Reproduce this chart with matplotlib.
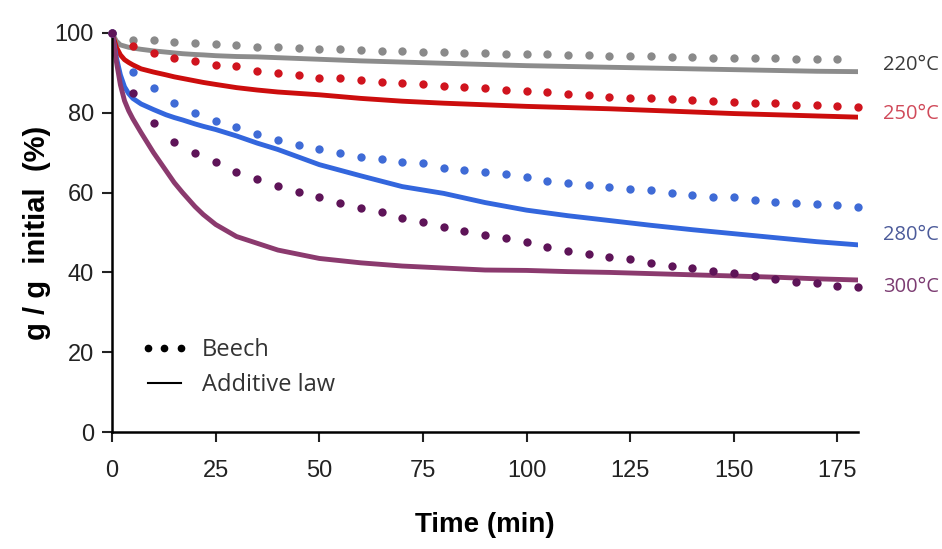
import numpy as np
import matplotlib
matplotlib.use('Agg')
import matplotlib.pyplot as plt
from matplotlib.lines import Line2D

# measured points (Beech), every 5 min
t_dots = np.arange(0, 181, 5)
beech_220 = [100, 98.3, 98.2, 97.8, 97.5, 97.2, 96.9, 96.6, 96.4, 96.2, 96.0, 95.9, 95.7,
             95.6, 95.5, 95.3, 95.2, 95.0, 94.9, 94.8, 94.7, 94.6, 94.5, 94.4, 94.3, 94.2,
             94.1, 94.0, 93.9, 93.8, 93.7, 93.7, 93.6, 93.5, 93.5, 93.4]  # stops at 175
beech_250 = [100, 96.8, 94.9, 93.6, 93.0, 92.0, 91.6, 90.5, 89.9, 89.5, 88.8, 88.6, 88.2,
             87.8, 87.4, 87.1, 86.8, 86.5, 86.1, 85.7, 85.5, 85.1, 84.8, 84.4, 84.0, 83.6,
             83.6, 83.4, 83.2, 83.0, 82.8, 82.5, 82.5, 82.0, 82.0, 81.7, 81.4]
beech_280 = [100, 90.3, 86.3, 82.4, 79.9, 77.9, 76.5, 74.8, 73.2, 71.9, 70.9, 70.0, 69.0,
             68.4, 67.7, 67.3, 66.2, 65.7, 65.1, 64.6, 64.0, 62.9, 62.5, 62.0, 61.5, 60.8,
             60.7, 59.8, 59.4, 59.0, 58.8, 58.1, 57.7, 57.3, 57.1, 56.9, 56.5]
beech_300 = [100, 84.9, 77.4, 72.8, 69.8, 67.7, 65.2, 63.5, 61.7, 60.2, 59.0, 57.3, 56.1,
             55.1, 53.7, 52.7, 51.5, 50.4, 49.4, 48.7, 47.5, 46.4, 45.3, 44.6, 43.9, 43.3,
             42.4, 41.7, 41.0, 40.4, 39.8, 39.1, 38.3, 37.7, 37.3, 36.6, 36.3]

# additive law curves
t_law = [0, 1, 2, 3, 4, 5, 7, 10, 13, 15, 17, 20, 22, 25, 30, 35, 40, 50, 60, 70, 80,
         90, 100, 110, 120, 130, 140, 150, 160, 170, 180]
law_220 = [100, 98, 97, 96.7, 96.4, 96.2, 95.9, 95.5, 95.2, 95, 94.8, 94.6, 94.5, 94.3,
           94.1, 94, 93.8, 93.4, 93, 92.7, 92.4, 92.1, 91.8, 91.6, 91.4, 91.2, 91, 90.8,
           90.6, 90.4, 90.3]
law_250 = [100, 96.5, 94.5, 93.3, 92.6, 92, 91, 90.2, 89.5, 89, 88.6, 88, 87.6, 87.1,
           86.3, 85.7, 85.2, 84.5, 83.6, 82.9, 82.4, 82, 81.6, 81.3, 81.0, 80.6, 80.2,
           79.8, 79.5, 79.2, 78.9]
law_280 = [100, 94, 89.5, 86.5, 84.8, 83.6, 82.2, 80.8, 79.5, 78.8, 78.2, 77.2, 76.6,
           75.8, 74.2, 72.4, 70.8, 67, 64.2, 61.5, 59.8, 57.5, 55.6, 54.2, 53, 51.8, 50.7,
           49.7, 48.7, 47.7, 46.9]
law_300 = [100, 93, 87, 83, 80.5, 78.5, 75, 70, 65.5, 62.5, 60, 56.5, 54.5, 52, 49,
           47.3, 45.6, 43.5, 42.4, 41.6, 41.1, 40.6, 40.5, 40.2, 40.0, 39.7, 39.4, 39.1,
           38.8, 38.4, 38.1]

temps = ['220°C', '250°C', '280°C', '300°C']
label_y = [92, 79.7, 49.4, 36.3]
dot_colors = ['#8a8a8a', '#d0141e', '#3f6bd6', '#5e1458']
line_colors = ['#8c8c8c', '#cc0d0d', '#3366dd', '#8b3a6e']
text_colors = ['#3a3a3a', '#d04a5a', '#4c5b9a', '#7c3c72']

plt.rcParams['font.family'] = ['Liberation Sans', 'DejaVu Sans']
side_font = ['Open Sans', 'DejaVu Sans']

fig = plt.figure(figsize=(9.42, 5.49), dpi=100)
ax = fig.add_axes([0.119, 0.213, 0.792, 0.727])

beech = [beech_220, beech_250, beech_280, beech_300]
law = [law_220, law_250, law_280, law_300]
for i in range(4):
    ax.plot(t_law, law[i], color=line_colors[i], lw=3.5, solid_capstyle='butt', zorder=2)
    ax.plot(t_dots[:len(beech[i])], beech[i], 'o', color=dot_colors[i], ms=6,
            mec='none', zorder=3, clip_on=False)
    ax.text(186, label_y[i], temps[i], color=text_colors[i], fontsize=14.5,
            family=side_font, va='center', ha='left', clip_on=False)

ax.set_xlim(0, 180)
ax.set_ylim(0, 100)
ax.set_xticks(np.arange(0, 176, 25))
ax.set_yticks(np.arange(0, 101, 20))
ax.tick_params(direction='out', length=7, width=1.5, labelsize=17, colors='#222222', pad=6)
ax.tick_params(axis='x', pad=13)
for s in ['top', 'right']:
    ax.spines[s].set_visible(False)
for s in ['left', 'bottom']:
    ax.spines[s].set_linewidth(1.8)

ax.set_xlabel('Time (min)', fontsize=20, fontweight='bold', labelpad=22)
ax.set_ylabel('g / g  initial  (%)', fontsize=21, fontweight='bold', labelpad=3)

handles = [Line2D([], [], ls='none', marker='o', ms=4.5, color='black'),
           Line2D([], [], color='black', lw=1.5)]
leg = ax.legend(handles, ['Beech', 'Additive law'], loc='lower left',
                bbox_to_anchor=(0.01, 0.035), frameon=False, numpoints=3,
                handlelength=2.0, handletextpad=0.6, labelspacing=0.45,
                prop={'family': side_font, 'size': 17})
for txt in leg.get_texts():
    txt.set_color('#333333')

fig.savefig('out.png', dpi=100)
